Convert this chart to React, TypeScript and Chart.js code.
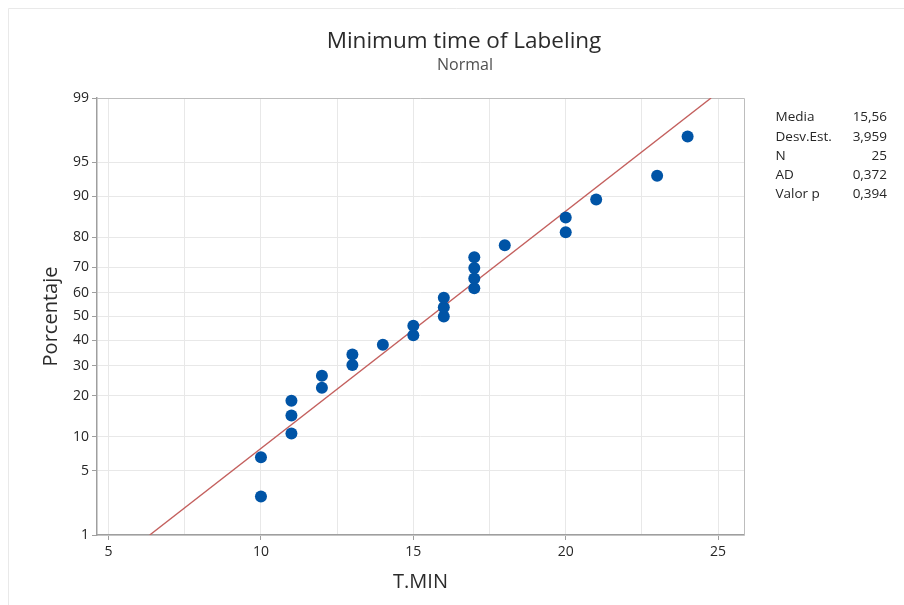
import { useEffect, useRef } from 'react';
import { Chart, Scale, registerables } from 'chart.js';

Chart.register(...registerables);

// Observations (minutes) and their plotted cumulative percentages
const T_MIN = [10, 10, 11, 11, 11, 12, 12, 13, 13, 14, 15, 15, 16, 16, 16, 17, 17, 17, 17, 18, 20, 20, 21, 23, 24];
const PERCENT = [
  2.76, 6.69, 10.63, 14.57, 18.5, 22.44, 26.38, 30.31, 34.25, 38.19, 42.13, 46.06, 50.0,
  53.94, 57.87, 61.81, 65.75, 69.69, 73.62, 77.56, 81.5, 85.43, 89.37, 93.31, 97.24,
];

// Fitted normal reference line (1% and 99% points)
const FIT_X = [6.35, 24.77];
const FIT_Y = [1, 99];

const Y_TICKS = [1, 5, 10, 20, 30, 40, 50, 60, 70, 80, 90, 95, 99];
const X_MIN = 4.62;
const X_MAX = 25.85;

const STAT_LABELS = ['Media', 'Desv.Est.', 'N', 'AD', 'Valor p'];
const STAT_VALUES = ['15,56', '3,959', '25', '0,372', '0,394'];

const TITLE = 'Minimum time of Labeling';
const SUBTITLE = 'Normal';

const FONT = "'Open Sans', 'Noto Sans', sans-serif";
const TEXT = '#262626';
const AXIS = '#9f9f9f';
const GRID = '#e8e8e8';

// Inverse standard normal CDF (Acklam)
function probit(p: number): number {
  const a = [-3.969683028665376e1, 2.209460984245205e2, -2.759285104469687e2, 1.38357751867269e2, -3.066479806614716e1, 2.506628277459239];
  const b = [-5.447609879822406e1, 1.615858368580409e2, -1.556989798598866e2, 6.680131188771972e1, -1.328068155288572e1];
  const c = [-7.784894002430293e-3, -3.223964580411365e-1, -2.400758277161838, -2.549732539343734, 4.374664141464968, 2.938163982698783];
  const d = [7.784695709041462e-3, 3.224671290700398e-1, 2.445134137142996, 3.754408661907416];
  const pl = 0.02425;
  if (p < pl) {
    const q = Math.sqrt(-2 * Math.log(p));
    return (((((c[0] * q + c[1]) * q + c[2]) * q + c[3]) * q + c[4]) * q + c[5]) / ((((d[0] * q + d[1]) * q + d[2]) * q + d[3]) * q + 1);
  }
  if (p <= 1 - pl) {
    const q = p - 0.5;
    const r = q * q;
    return ((((((a[0] * r + a[1]) * r + a[2]) * r + a[3]) * r + a[4]) * r + a[5]) * q) / (((((b[0] * r + b[1]) * r + b[2]) * r + b[3]) * r + b[4]) * r + 1);
  }
  const q = Math.sqrt(-2 * Math.log(1 - p));
  return -(((((c[0] * q + c[1]) * q + c[2]) * q + c[3]) * q + c[4]) * q + c[5]) / ((((d[0] * q + d[1]) * q + d[2]) * q + d[3]) * q + 1);
}

function normCdf(z: number): number {
  const t = 1 / (1 + 0.2316419 * Math.abs(z));
  const poly = t * (0.31938153 + t * (-0.356563782 + t * (1.781477937 + t * (-1.821255978 + t * 1.330274429))));
  const v = 1 - (Math.exp(-z * z / 2) / Math.sqrt(2 * Math.PI)) * poly;
  return z >= 0 ? v : 1 - v;
}

// Normal-probability (probit) axis for percentages
class ProbitScale extends Scale {
  static id = 'probit';
  static defaults = {};
  zMin = -2.326;
  zMax = 2.326;

  determineDataLimits() {
    const o = this.options as any;
    this.min = o.min;
    this.max = o.max;
  }
  buildTicks() {
    return [];
  }
  getLabelForValue(v: number) {
    return String(v);
  }
  configure() {
    super.configure();
    this.zMin = probit(this.min / 100);
    this.zMax = probit(this.max / 100);
  }
  getPixelForValue(v: number) {
    const z = probit(v / 100);
    return this.getPixelForDecimal((z - this.zMin) / (this.zMax - this.zMin));
  }
  getValueForPixel(px: number) {
    const dec = this.getDecimalForPixel(px);
    return 100 * normCdf(this.zMin + dec * (this.zMax - this.zMin));
  }
}
Chart.register(ProbitScale as any);

const decorations = {
  id: 'decorations',
  beforeDraw(chart: any) {
    const { ctx, width, height } = chart;
    ctx.save();
    ctx.fillStyle = '#ffffff';
    ctx.fillRect(0, 0, width, height);
    ctx.strokeStyle = '#e9e9e9';
    ctx.lineWidth = 1;
    ctx.beginPath();
    ctx.moveTo(8.5, height);
    ctx.lineTo(8.5, 8.5);
    ctx.lineTo(width, 8.5);
    ctx.stroke();
    ctx.restore();
  },
  beforeDatasetsDraw(chart: any) {
    const { ctx, chartArea } = chart;
    ctx.save();
    ctx.strokeStyle = '#bdbdbd';
    ctx.lineWidth = 1;
    ctx.beginPath();
    ctx.moveTo(chartArea.left, chartArea.top + 0.5);
    ctx.lineTo(chartArea.right + 0.5, chartArea.top + 0.5);
    ctx.lineTo(chartArea.right + 0.5, chartArea.bottom);
    ctx.stroke();
    ctx.restore();
  },
  afterDraw(chart: any) {
    const { ctx } = chart;
    ctx.save();
    ctx.textBaseline = 'alphabetic';
    ctx.textAlign = 'center';
    ctx.fillStyle = '#2b2b2b';
    ctx.font = `22.5px ${FONT}`;
    ctx.fillText(TITLE, 464, 48);
    ctx.fillStyle = '#505050';
    ctx.font = `16px ${FONT}`;
    ctx.fillText(SUBTITLE, 465, 70);

    ctx.fillStyle = TEXT;
    ctx.font = `13.5px ${FONT}`;
    STAT_LABELS.forEach((label, i) => {
      const y = 121.3 + i * 19.25;
      ctx.textAlign = 'left';
      ctx.fillText(label, 775.5, y);
      ctx.textAlign = 'right';
      ctx.fillText(STAT_VALUES[i], 887, y);
    });
    ctx.restore();
  },
};

export default function App() {
  const ref = useRef<HTMLCanvasElement>(null);

  useEffect(() => {
    const points = T_MIN.map((x, i) => ({ x, y: PERCENT[i] }));
    const fit = FIT_X.map((x, i) => ({ x, y: FIT_Y[i] }));
    const tickFont = { family: FONT, size: 14 };

    const chart = new Chart(ref.current as HTMLCanvasElement, {
      type: 'scatter',
      data: {
        datasets: [
          {
            label: 'T.MIN',
            data: points,
            pointRadius: 6,
            pointHoverRadius: 6,
            pointBackgroundColor: '#0054a6',
            pointBorderWidth: 0,
            borderWidth: 0,
          },
          {
            label: 'Ajuste',
            data: fit,
            showLine: true,
            pointRadius: 0,
            borderColor: '#c4605e',
            borderWidth: 1.4,
          },
        ],
      },
      options: {
        responsive: false,
        animation: false,
        layout: { padding: { left: 0, top: 98, right: 160, bottom: 0 } },
        plugins: {
          legend: { display: false },
          tooltip: { enabled: false },
        },
        scales: {
          x: {
            type: 'linear',
            min: X_MIN,
            max: X_MAX,
            afterFit: (s: any) => {
              s.height = 70;
            },
            ticks: {
              stepSize: 2.5,
              includeBounds: false,
              autoSkip: false,
              maxRotation: 0,
              padding: 4,
              color: TEXT,
              font: tickFont,
              callback: (v: any) => (Number(v) % 5 === 0 ? String(v) : ''),
            },
            grid: {
              color: GRID,
              lineWidth: 1,
              tickLength: 5,
              tickColor: (c: any) => (c.tick && c.tick.value % 5 === 0 ? AXIS : 'rgba(0,0,0,0)'),
            },
            border: { color: AXIS, width: 1.5 },
            title: {
              display: true,
              text: 'T.MIN',
              color: '#2b2b2b',
              font: { family: FONT, size: 20 },
              padding: { top: 0, bottom: 11 },
            },
          },
          y: {
            type: 'probit' as any,
            min: 1,
            max: 99,
            afterBuildTicks: (s: any) => {
              s.ticks = Y_TICKS.map((v) => ({ value: v }));
            },
            afterFit: (s: any) => {
              s.width = 97;
            },
            ticks: {
              autoSkip: false,
              padding: 3,
              color: TEXT,
              font: tickFont,
              callback: (v: any) => String(v),
            },
            grid: { color: GRID, lineWidth: 1, tickLength: 5, tickColor: AXIS },
            border: { color: AXIS, width: 1.5 },
            title: {
              display: true,
              text: 'Porcentaje',
              color: '#2b2b2b',
              font: { family: FONT, size: 20 },
              padding: { top: 39, bottom: 0 },
            },
          } as any,
        },
      },
      plugins: [decorations],
    } as any);

    return () => chart.destroy();
  }, []);

  return (
    <div style={{ position: 'fixed', left: 0, top: 0, width: 904, height: 605, background: '#fff' }}>
      <canvas ref={ref} width={904} height={605} style={{ display: 'block' }} />
    </div>
  );
}
